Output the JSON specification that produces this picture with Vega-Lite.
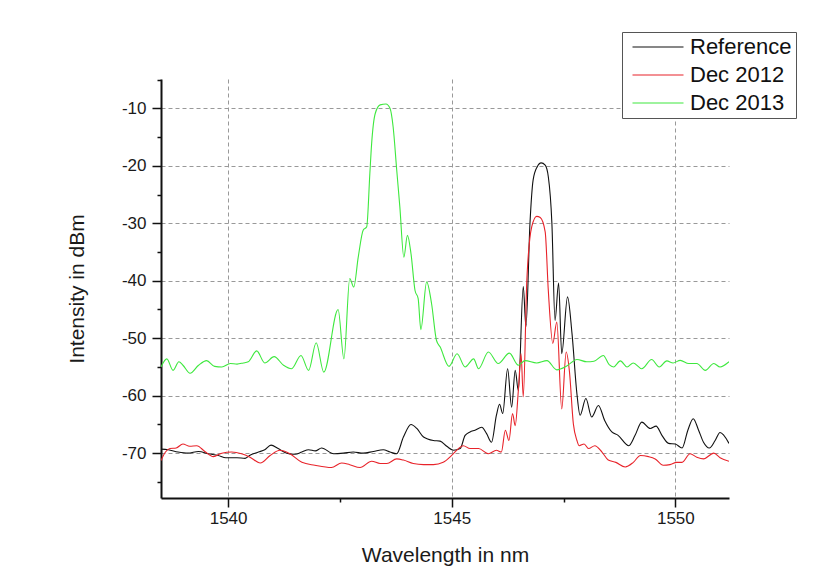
{
  "$schema": "https://vega.github.io/schema/vega-lite/v6.json",
  "width": 568,
  "height": 419,
  "autosize": {"type": "none"},
  "padding": {"left": 161, "top": 79, "right": 103, "bottom": 90},
  "background": "white",
  "config": {
    "view": {"stroke": null},
    "font": "Liberation Sans",
    "axis": {
      "domainColor": "#111",
      "domainWidth": 2,
      "tickColor": "#111",
      "tickWidth": 1.5,
      "labelFont": "Liberation Sans",
      "labelFontSize": 17,
      "labelColor": "#1a1a1a",
      "titleFont": "Liberation Sans",
      "titleFontSize": 21,
      "titleFontWeight": "normal",
      "titleColor": "#1a1a1a",
      "grid": true,
      "gridColor": "#999",
      "gridDash": [4, 3],
      "gridWidth": 1
    },
    "legend": {
      "labelFont": "Liberation Sans",
      "labelFontSize": 22,
      "labelColor": "#111",
      "labelLimit": 0
    }
  },
  "data": {
    "values": [
      {"s":"Reference","x":1538.5,"y":-69.3},{"s":"Reference","x":1538.66,"y":-69.4},{"s":"Reference","x":1538.88,"y":-69.8},{"s":"Reference","x":1539.1,"y":-70.0},{"s":"Reference","x":1539.34,"y":-69.7},{"s":"Reference","x":1539.56,"y":-70.1},{"s":"Reference","x":1539.78,"y":-70.4},{"s":"Reference","x":1539.95,"y":-70.8},{"s":"Reference","x":1540.2,"y":-70.8},{"s":"Reference","x":1540.38,"y":-70.9},{"s":"Reference","x":1540.5,"y":-70.3},{"s":"Reference","x":1540.68,"y":-69.8},{"s":"Reference","x":1540.82,"y":-69.4},{"s":"Reference","x":1540.96,"y":-68.6},{"s":"Reference","x":1541.12,"y":-69.2},{"s":"Reference","x":1541.31,"y":-70.0},{"s":"Reference","x":1541.5,"y":-70.2},{"s":"Reference","x":1541.65,"y":-69.8},{"s":"Reference","x":1541.8,"y":-69.4},{"s":"Reference","x":1541.95,"y":-69.6},{"s":"Reference","x":1542.09,"y":-69.1},{"s":"Reference","x":1542.36,"y":-70.1},{"s":"Reference","x":1542.58,"y":-70.0},{"s":"Reference","x":1542.8,"y":-69.8},{"s":"Reference","x":1543.02,"y":-70.0},{"s":"Reference","x":1543.25,"y":-69.7},{"s":"Reference","x":1543.47,"y":-69.4},{"s":"Reference","x":1543.62,"y":-69.8},{"s":"Reference","x":1543.77,"y":-70.1},{"s":"Reference","x":1543.92,"y":-67.2},{"s":"Reference","x":1544.09,"y":-65.0},{"s":"Reference","x":1544.22,"y":-65.7},{"s":"Reference","x":1544.37,"y":-67.2},{"s":"Reference","x":1544.59,"y":-67.8},{"s":"Reference","x":1544.74,"y":-67.9},{"s":"Reference","x":1544.89,"y":-68.8},{"s":"Reference","x":1545.04,"y":-69.5},{"s":"Reference","x":1545.19,"y":-69.2},{"s":"Reference","x":1545.3,"y":-66.9},{"s":"Reference","x":1545.41,"y":-66.3},{"s":"Reference","x":1545.52,"y":-66.0},{"s":"Reference","x":1545.67,"y":-65.5},{"s":"Reference","x":1545.78,"y":-66.6},{"s":"Reference","x":1545.89,"y":-68.1},{"s":"Reference","x":1546.0,"y":-63.4},{"s":"Reference","x":1546.07,"y":-61.5},{"s":"Reference","x":1546.14,"y":-63.1},{"s":"Reference","x":1546.25,"y":-55.3},{"s":"Reference","x":1546.34,"y":-62.0},{"s":"Reference","x":1546.42,"y":-55.6},{"s":"Reference","x":1546.49,"y":-59.1},{"s":"Reference","x":1546.6,"y":-41.0},{"s":"Reference","x":1546.66,"y":-48.0},{"s":"Reference","x":1546.75,"y":-30.0},{"s":"Reference","x":1546.82,"y":-22.5},{"s":"Reference","x":1546.91,"y":-20.2},{"s":"Reference","x":1547.0,"y":-19.5},{"s":"Reference","x":1547.09,"y":-19.9},{"s":"Reference","x":1547.16,"y":-21.9},{"s":"Reference","x":1547.24,"y":-30.0},{"s":"Reference","x":1547.31,"y":-46.9},{"s":"Reference","x":1547.39,"y":-40.4},{"s":"Reference","x":1547.46,"y":-52.7},{"s":"Reference","x":1547.59,"y":-42.8},{"s":"Reference","x":1547.69,"y":-49.2},{"s":"Reference","x":1547.8,"y":-59.7},{"s":"Reference","x":1547.87,"y":-63.4},{"s":"Reference","x":1548.0,"y":-60.5},{"s":"Reference","x":1548.13,"y":-63.7},{"s":"Reference","x":1548.28,"y":-61.7},{"s":"Reference","x":1548.42,"y":-64.3},{"s":"Reference","x":1548.58,"y":-66.3},{"s":"Reference","x":1548.72,"y":-66.9},{"s":"Reference","x":1548.96,"y":-68.7},{"s":"Reference","x":1549.1,"y":-66.9},{"s":"Reference","x":1549.25,"y":-64.6},{"s":"Reference","x":1549.44,"y":-65.7},{"s":"Reference","x":1549.57,"y":-65.3},{"s":"Reference","x":1549.7,"y":-66.9},{"s":"Reference","x":1549.85,"y":-68.3},{"s":"Reference","x":1550.0,"y":-68.4},{"s":"Reference","x":1550.15,"y":-69.1},{"s":"Reference","x":1550.28,"y":-66.0},{"s":"Reference","x":1550.4,"y":-64.0},{"s":"Reference","x":1550.52,"y":-66.0},{"s":"Reference","x":1550.63,"y":-68.1},{"s":"Reference","x":1550.76,"y":-69.1},{"s":"Reference","x":1550.89,"y":-67.8},{"s":"Reference","x":1551.0,"y":-66.4},{"s":"Reference","x":1551.2,"y":-68.3},
      {"s":"Dec 2012","x":1538.5,"y":-71.3},{"s":"Dec 2012","x":1538.6,"y":-69.8},{"s":"Dec 2012","x":1538.7,"y":-69.2},{"s":"Dec 2012","x":1538.84,"y":-69.1},{"s":"Dec 2012","x":1538.99,"y":-68.4},{"s":"Dec 2012","x":1539.14,"y":-68.8},{"s":"Dec 2012","x":1539.3,"y":-68.7},{"s":"Dec 2012","x":1539.48,"y":-69.7},{"s":"Dec 2012","x":1539.67,"y":-70.6},{"s":"Dec 2012","x":1539.86,"y":-70.0},{"s":"Dec 2012","x":1540.08,"y":-69.8},{"s":"Dec 2012","x":1540.3,"y":-70.1},{"s":"Dec 2012","x":1540.49,"y":-70.7},{"s":"Dec 2012","x":1540.72,"y":-71.7},{"s":"Dec 2012","x":1540.94,"y":-70.4},{"s":"Dec 2012","x":1541.16,"y":-69.5},{"s":"Dec 2012","x":1541.38,"y":-70.1},{"s":"Dec 2012","x":1541.65,"y":-71.6},{"s":"Dec 2012","x":1541.94,"y":-72.1},{"s":"Dec 2012","x":1542.31,"y":-72.5},{"s":"Dec 2012","x":1542.54,"y":-71.7},{"s":"Dec 2012","x":1542.72,"y":-72.0},{"s":"Dec 2012","x":1542.95,"y":-72.5},{"s":"Dec 2012","x":1543.21,"y":-71.4},{"s":"Dec 2012","x":1543.4,"y":-71.8},{"s":"Dec 2012","x":1543.55,"y":-71.8},{"s":"Dec 2012","x":1543.77,"y":-71.0},{"s":"Dec 2012","x":1543.92,"y":-71.2},{"s":"Dec 2012","x":1544.14,"y":-71.8},{"s":"Dec 2012","x":1544.37,"y":-72.0},{"s":"Dec 2012","x":1544.59,"y":-72.0},{"s":"Dec 2012","x":1544.81,"y":-71.6},{"s":"Dec 2012","x":1545.0,"y":-70.4},{"s":"Dec 2012","x":1545.15,"y":-69.2},{"s":"Dec 2012","x":1545.26,"y":-68.7},{"s":"Dec 2012","x":1545.41,"y":-69.2},{"s":"Dec 2012","x":1545.6,"y":-69.2},{"s":"Dec 2012","x":1545.82,"y":-70.1},{"s":"Dec 2012","x":1546.0,"y":-69.5},{"s":"Dec 2012","x":1546.11,"y":-69.8},{"s":"Dec 2012","x":1546.2,"y":-66.0},{"s":"Dec 2012","x":1546.28,"y":-67.8},{"s":"Dec 2012","x":1546.36,"y":-63.1},{"s":"Dec 2012","x":1546.42,"y":-65.2},{"s":"Dec 2012","x":1546.49,"y":-59.1},{"s":"Dec 2012","x":1546.55,"y":-52.7},{"s":"Dec 2012","x":1546.6,"y":-60.2},{"s":"Dec 2012","x":1546.68,"y":-39.9},{"s":"Dec 2012","x":1546.79,"y":-30.6},{"s":"Dec 2012","x":1546.9,"y":-28.8},{"s":"Dec 2012","x":1546.98,"y":-29.0},{"s":"Dec 2012","x":1547.09,"y":-31.5},{"s":"Dec 2012","x":1547.16,"y":-41.7},{"s":"Dec 2012","x":1547.26,"y":-50.9},{"s":"Dec 2012","x":1547.35,"y":-47.2},{"s":"Dec 2012","x":1547.46,"y":-62.3},{"s":"Dec 2012","x":1547.56,"y":-52.4},{"s":"Dec 2012","x":1547.63,"y":-55.6},{"s":"Dec 2012","x":1547.72,"y":-64.9},{"s":"Dec 2012","x":1547.8,"y":-67.8},{"s":"Dec 2012","x":1547.85,"y":-68.7},{"s":"Dec 2012","x":1547.96,"y":-68.4},{"s":"Dec 2012","x":1548.06,"y":-69.2},{"s":"Dec 2012","x":1548.2,"y":-68.7},{"s":"Dec 2012","x":1548.36,"y":-69.8},{"s":"Dec 2012","x":1548.5,"y":-71.2},{"s":"Dec 2012","x":1548.67,"y":-71.6},{"s":"Dec 2012","x":1548.88,"y":-72.4},{"s":"Dec 2012","x":1549.06,"y":-71.6},{"s":"Dec 2012","x":1549.22,"y":-70.4},{"s":"Dec 2012","x":1549.4,"y":-70.6},{"s":"Dec 2012","x":1549.55,"y":-71.0},{"s":"Dec 2012","x":1549.73,"y":-72.1},{"s":"Dec 2012","x":1549.88,"y":-72.0},{"s":"Dec 2012","x":1550.03,"y":-71.6},{"s":"Dec 2012","x":1550.15,"y":-71.6},{"s":"Dec 2012","x":1550.33,"y":-70.1},{"s":"Dec 2012","x":1550.48,"y":-70.7},{"s":"Dec 2012","x":1550.63,"y":-71.0},{"s":"Dec 2012","x":1550.86,"y":-70.0},{"s":"Dec 2012","x":1551.0,"y":-70.8},{"s":"Dec 2012","x":1551.2,"y":-71.4},
      {"s":"Dec 2013","x":1538.5,"y":-55.0},{"s":"Dec 2013","x":1538.63,"y":-53.6},{"s":"Dec 2013","x":1538.77,"y":-55.6},{"s":"Dec 2013","x":1538.9,"y":-54.1},{"s":"Dec 2013","x":1538.99,"y":-54.7},{"s":"Dec 2013","x":1539.15,"y":-56.1},{"s":"Dec 2013","x":1539.34,"y":-54.7},{"s":"Dec 2013","x":1539.52,"y":-53.9},{"s":"Dec 2013","x":1539.7,"y":-54.9},{"s":"Dec 2013","x":1539.86,"y":-55.0},{"s":"Dec 2013","x":1540.05,"y":-54.4},{"s":"Dec 2013","x":1540.2,"y":-54.5},{"s":"Dec 2013","x":1540.34,"y":-54.3},{"s":"Dec 2013","x":1540.45,"y":-54.1},{"s":"Dec 2013","x":1540.64,"y":-52.2},{"s":"Dec 2013","x":1540.82,"y":-54.3},{"s":"Dec 2013","x":1541.03,"y":-53.2},{"s":"Dec 2013","x":1541.24,"y":-54.7},{"s":"Dec 2013","x":1541.42,"y":-55.3},{"s":"Dec 2013","x":1541.63,"y":-53.0},{"s":"Dec 2013","x":1541.8,"y":-55.6},{"s":"Dec 2013","x":1541.97,"y":-50.8},{"s":"Dec 2013","x":1542.14,"y":-55.9},{"s":"Dec 2013","x":1542.46,"y":-45.0},{"s":"Dec 2013","x":1542.59,"y":-53.6},{"s":"Dec 2013","x":1542.72,"y":-39.6},{"s":"Dec 2013","x":1542.81,"y":-41.1},{"s":"Dec 2013","x":1542.91,"y":-35.9},{"s":"Dec 2013","x":1543.02,"y":-31.2},{"s":"Dec 2013","x":1543.1,"y":-30.6},{"s":"Dec 2013","x":1543.17,"y":-21.3},{"s":"Dec 2013","x":1543.21,"y":-16.1},{"s":"Dec 2013","x":1543.29,"y":-10.9},{"s":"Dec 2013","x":1543.4,"y":-9.4},{"s":"Dec 2013","x":1543.53,"y":-9.25},{"s":"Dec 2013","x":1543.62,"y":-10.0},{"s":"Dec 2013","x":1543.69,"y":-13.2},{"s":"Dec 2013","x":1543.77,"y":-20.7},{"s":"Dec 2013","x":1543.84,"y":-27.1},{"s":"Dec 2013","x":1543.93,"y":-35.9},{"s":"Dec 2013","x":1544.01,"y":-32.1},{"s":"Dec 2013","x":1544.09,"y":-35.3},{"s":"Dec 2013","x":1544.18,"y":-41.7},{"s":"Dec 2013","x":1544.25,"y":-43.1},{"s":"Dec 2013","x":1544.31,"y":-48.5},{"s":"Dec 2013","x":1544.44,"y":-40.2},{"s":"Dec 2013","x":1544.55,"y":-44.0},{"s":"Dec 2013","x":1544.66,"y":-50.4},{"s":"Dec 2013","x":1544.74,"y":-51.5},{"s":"Dec 2013","x":1544.94,"y":-54.9},{"s":"Dec 2013","x":1545.12,"y":-52.7},{"s":"Dec 2013","x":1545.3,"y":-55.0},{"s":"Dec 2013","x":1545.49,"y":-53.6},{"s":"Dec 2013","x":1545.6,"y":-55.3},{"s":"Dec 2013","x":1545.82,"y":-52.4},{"s":"Dec 2013","x":1546.04,"y":-54.4},{"s":"Dec 2013","x":1546.29,"y":-52.6},{"s":"Dec 2013","x":1546.49,"y":-54.7},{"s":"Dec 2013","x":1546.64,"y":-53.9},{"s":"Dec 2013","x":1546.9,"y":-54.3},{"s":"Dec 2013","x":1547.13,"y":-53.9},{"s":"Dec 2013","x":1547.35,"y":-55.5},{"s":"Dec 2013","x":1547.58,"y":-54.8},{"s":"Dec 2013","x":1547.8,"y":-53.7},{"s":"Dec 2013","x":1548.02,"y":-54.1},{"s":"Dec 2013","x":1548.18,"y":-54.0},{"s":"Dec 2013","x":1548.39,"y":-53.0},{"s":"Dec 2013","x":1548.52,"y":-54.6},{"s":"Dec 2013","x":1548.62,"y":-55.0},{"s":"Dec 2013","x":1548.77,"y":-53.95},{"s":"Dec 2013","x":1548.92,"y":-55.0},{"s":"Dec 2013","x":1549.06,"y":-54.3},{"s":"Dec 2013","x":1549.25,"y":-55.3},{"s":"Dec 2013","x":1549.47,"y":-53.7},{"s":"Dec 2013","x":1549.64,"y":-55.0},{"s":"Dec 2013","x":1549.81,"y":-53.95},{"s":"Dec 2013","x":1549.95,"y":-54.3},{"s":"Dec 2013","x":1550.11,"y":-53.85},{"s":"Dec 2013","x":1550.3,"y":-54.4},{"s":"Dec 2013","x":1550.48,"y":-54.4},{"s":"Dec 2013","x":1550.67,"y":-55.6},{"s":"Dec 2013","x":1550.86,"y":-54.4},{"s":"Dec 2013","x":1551.0,"y":-55.0},{"s":"Dec 2013","x":1551.2,"y":-54.1}
    ]
  },
  "mark": {"type": "line", "interpolate": "monotone", "clip": true},
  "encoding": {
    "x": {
      "field": "x",
      "type": "quantitative",
      "scale": {"domain": [1538.5, 1551.2], "nice": false, "zero": false},
      "axis": {
        "title": "Wavelength in nm",
        "values": [1540, 1542.5, 1545, 1547.5, 1550],
        "labelExpr": "datum.value % 5 === 0 ? '' + datum.value : ''",
        "tickSize": {"condition": {"test": "datum.value % 5 === 0", "value": 9}, "value": 4},
        "gridOpacity": {"condition": {"test": "datum.value % 5 === 0", "value": 1}, "value": 0},
        "labelPadding": 3,
        "titlePadding": 18
      }
    },
    "y": {
      "field": "y",
      "type": "quantitative",
      "scale": {"domain": [-77.8, -4.9], "nice": false, "zero": false},
      "axis": {
        "title": "Intensity in dBm",
        "values": [-75, -70, -65, -60, -55, -50, -45, -40, -35, -30, -25, -20, -15, -10, -5],
        "labelExpr": "datum.value % 10 === 0 ? '-' + abs(datum.value) : ''",
        "tickSize": {"condition": {"test": "datum.value % 10 === 0", "value": 9}, "value": 4},
        "gridOpacity": {"condition": {"test": "datum.value % 10 === 0", "value": 1}, "value": 0},
        "labelPadding": 6,
        "titlePadding": 34
      }
    },
    "strokeWidth": {
      "field": "s",
      "type": "nominal",
      "scale": {"domain": ["Reference", "Dec 2012", "Dec 2013"], "range": [1.1, 1.1, 1.5]},
      "legend": null
    },
    "color": {
      "field": "s",
      "type": "nominal",
      "scale": {"domain": ["Reference", "Dec 2012", "Dec 2013"], "range": ["#111111", "#e8232a", "#3ee83e"]},
      "legend": {
        "title": null,
        "orient": "none",
        "legendX": 461,
        "legendY": -47,
        "fillColor": "white",
        "strokeColor": "#555",
        "padding": 4,
        "symbolType": "M-5.1,0L5.1,0",
        "symbolSize": 100,
        "symbolStrokeWidth": 1.2,
        "symbolOffset": 21,
        "labelOffset": 21,
        "rowPadding": 6
      }
    }
  }
}
